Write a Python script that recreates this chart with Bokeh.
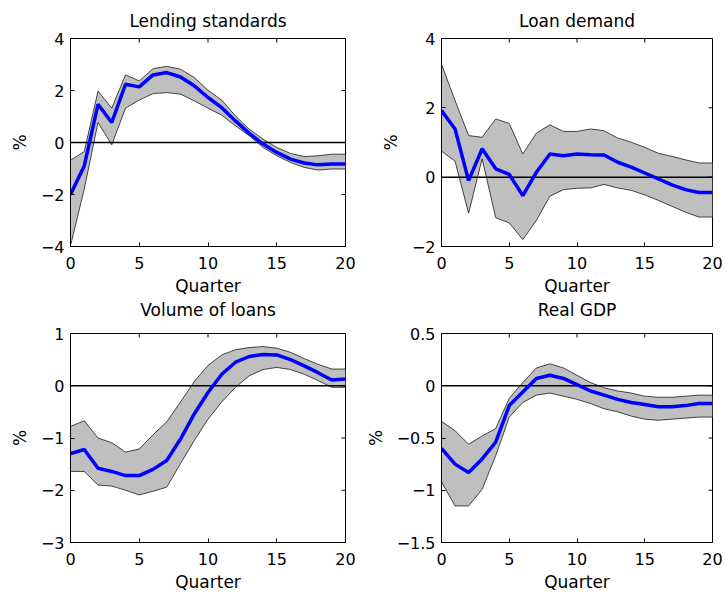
import math
from bokeh.plotting import figure
from bokeh.layouts import gridplot
from bokeh.models import Range1d, FixedTicker, Title
from bokeh.embed import file_html
from bokeh.resources import INLINE

quarters = list(range(21))

# Lending standards
ls_mid = [-2.0, -0.9, 1.47, 0.77, 2.24, 2.14, 2.6, 2.69, 2.52, 2.18, 1.73, 1.34, 0.83, 0.35, -0.06, -0.38, -0.64, -0.79, -0.86, -0.83, -0.83]
ls_hi = [-0.68, -0.35, 1.98, 1.32, 2.6, 2.37, 2.84, 2.93, 2.82, 2.5, 2.01, 1.63, 1.02, 0.51, 0.13, -0.19, -0.42, -0.54, -0.51, -0.45, -0.45]
ls_lo = [-3.97, -1.79, 0.77, -0.09, 1.32, 1.63, 1.88, 1.92, 1.86, 1.6, 1.32, 1.05, 0.64, 0.26, -0.19, -0.51, -0.77, -0.96, -1.06, -1.02, -1.02]

# Loan demand
ld_mid = [1.92, 1.39, -0.1, 0.82, 0.24, 0.08, -0.53, 0.14, 0.67, 0.62, 0.67, 0.65, 0.64, 0.43, 0.29, 0.12, -0.05, -0.22, -0.36, -0.44, -0.44]
ld_hi = [3.26, 2.21, 1.2, 1.15, 1.68, 1.55, 0.67, 1.27, 1.51, 1.32, 1.32, 1.39, 1.34, 1.13, 1.01, 0.86, 0.69, 0.6, 0.5, 0.41, 0.41]
ld_lo = [0.75, 0.46, -1.04, 0.53, -1.17, -1.32, -1.8, -1.25, -0.55, -0.36, -0.32, -0.31, -0.21, -0.31, -0.38, -0.51, -0.67, -0.84, -1.01, -1.15, -1.15]

# Volume of loans
vl_mid = [-1.3, -1.22, -1.58, -1.64, -1.72, -1.72, -1.6, -1.43, -1.02, -0.54, -0.13, 0.22, 0.45, 0.56, 0.6, 0.59, 0.5, 0.38, 0.25, 0.11, 0.13]
vl_hi = [-0.78, -0.67, -1.0, -1.09, -1.27, -1.21, -0.94, -0.69, -0.31, 0.08, 0.39, 0.59, 0.69, 0.73, 0.75, 0.72, 0.64, 0.52, 0.41, 0.32, 0.32]
vl_lo = [-1.64, -1.64, -1.9, -1.92, -2.0, -2.09, -2.02, -1.94, -1.49, -1.05, -0.64, -0.31, -0.03, 0.19, 0.31, 0.35, 0.31, 0.22, 0.1, -0.03, -0.03]

# Real GDP
gdp_mid = [-0.6, -0.75, -0.83, -0.7, -0.54, -0.19, -0.06, 0.07, 0.1, 0.07, 0.01, -0.05, -0.09, -0.13, -0.16, -0.18, -0.2, -0.2, -0.19, -0.17, -0.17]
gdp_hi = [-0.34, -0.43, -0.56, -0.48, -0.41, -0.12, 0.03, 0.17, 0.21, 0.17, 0.1, 0.03, -0.02, -0.05, -0.07, -0.1, -0.11, -0.11, -0.1, -0.09, -0.09]
gdp_lo = [-0.92, -1.15, -1.15, -0.99, -0.67, -0.3, -0.16, -0.09, -0.07, -0.1, -0.13, -0.17, -0.22, -0.25, -0.29, -0.32, -0.33, -0.32, -0.31, -0.3, -0.3]

titles = ["Lending standards", "Loan demand", "Volume of loans", "Real GDP"]
x_ticks = [0, 5, 10, 15, 20]
ls_ticks = [-4, -2, 0, 2, 4]
ld_ticks = [-2, 0, 2, 4]
vl_ticks = [-3, -2, -1, 0, 1]
gdp_ticks = [-1.5, -1, -0.5, 0, 0.5]
ls_labels = ["\u22124", "\u22122", "0", "2", "4"]
ld_labels = ["\u22122", "0", "2", "4"]
vl_labels = ["\u22123", "\u22122", "\u22121", "0", "1"]
gdp_labels = ["\u22121.5", "\u22121", "\u22120.5", "0", "0.5"]
x_label = "Quarter"
y_label = "%"

FONT = "DejaVu Sans"
FS_TICK = "16px"
FS_TEXT = "17px"


def style_axis(ax, ticks, labels=None):
    ax.ticker = FixedTicker(ticks=ticks)
    ax.major_tick_in = 4
    ax.major_tick_out = 0
    ax.minor_tick_in = 0
    ax.minor_tick_out = 0
    ax.axis_line_color = "black"
    ax.major_tick_line_color = "black"
    ax.major_label_text_font = FONT
    ax.major_label_text_color = "black"
    ax.major_label_text_font_size = FS_TICK
    if labels is not None:
        ax.major_label_overrides = {t: l for t, l in zip(ticks, labels)}
    ax.axis_label_text_font = FONT
    ax.axis_label_text_font_size = FS_TEXT
    ax.axis_label_text_font_style = "normal"
    ax.axis_label_text_color = "black"


def make_title(text, valign, standoff):
    return Title(text=text, align="center", vertical_align=valign, standoff=standoff,
                 text_font=FONT, text_font_size=FS_TEXT, text_font_style="normal",
                 text_color="black")


def make_panel(mid, lo, hi, yr, yticks, ylabels, w, h, bl, br, bt, bb,
               top_title=None, below_title=None):
    p = figure(width=w, height=h, output_backend="svg", toolbar_location=None,
               x_range=Range1d(0, 20), y_range=Range1d(*yr),
               min_border_left=bl, min_border_right=br, min_border_top=bt, min_border_bottom=bb)
    p.xgrid.visible = False
    p.ygrid.visible = False
    p.outline_line_color = "black"
    p.outline_line_alpha = 1
    p.background_fill_color = "white"
    p.border_fill_color = "white"

    style_axis(p.xaxis[0], x_ticks)
    style_axis(p.yaxis[0], yticks, ylabels)
    p.xaxis[0].major_label_standoff = 10
    p.yaxis[0].major_label_standoff = 6
    p.xaxis[0].axis_label = x_label
    p.yaxis[0].axis_label = y_label
    p.xaxis[0].axis_label_standoff = 4
    p.yaxis[0].axis_label_standoff = 8

    # panel titles: the top row's own titles above, the bottom row's titles
    # hang under the top row's x-axis so they sit just above the lower frames
    if top_title is not None:
        p.add_layout(make_title(top_title, "bottom", 15), "above")
    if below_title is not None:
        p.add_layout(make_title(below_title, "top", 2), "below")

    # band, zero line and response
    p.varea(x=quarters, y1=lo, y2=hi, fill_color="#bfbfbf")
    p.line(quarters, hi, line_color="black", line_width=0.7)
    p.line(quarters, lo, line_color="black", line_width=0.7)
    p.line([0, 20], [0, 0], line_color="black", line_width=1.5)
    p.line(quarters, mid, line_color="#0000ff", line_width=3.5)

    # mirrored inward ticks on top and right edges (box on)
    p.ray(x=x_ticks, y=[yr[1]] * len(x_ticks), length=4, length_units="screen",
          angle=-math.pi / 2, line_color="black", line_width=1)
    p.ray(x=[20] * len(yticks), y=yticks, length=4, length_units="screen",
          angle=math.pi, line_color="black", line_width=1)
    return p


p1 = make_panel(ls_mid, ls_lo, ls_hi, (-4, 4), ls_ticks, ls_labels, 362, 326, 70, 17, 38, 80,
                top_title=titles[0], below_title=titles[2])
p2 = make_panel(ld_mid, ld_lo, ld_hi, (-2, 4), ld_ticks, ld_labels, 362, 326, 76, 12, 38, 80,
                top_title=titles[1], below_title=titles[3])
p3 = make_panel(vl_mid, vl_lo, vl_hi, (-3, 1), vl_ticks, vl_labels, 362, 272, 70, 17, 7, 56)
p4 = make_panel(gdp_mid, gdp_lo, gdp_hi, (-1.5, 0.5), gdp_ticks, gdp_labels, 362, 272, 76, 12, 7, 56)

grid = gridplot([[p1, p2], [p3, p4]], toolbar_location=None)

open("out.html", "w").write(file_html(grid, INLINE))
